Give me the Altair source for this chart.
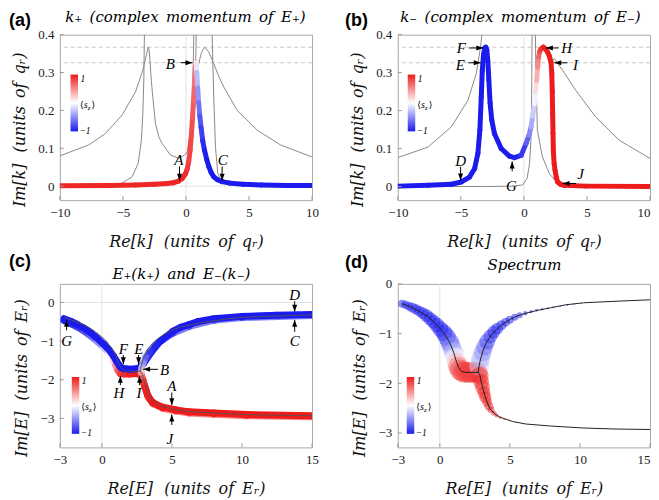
import altair as alt
import pandas as pd

RED = "#ee1b1b"
BLUE = "#1b1bee"
GRAYLINE = "#8a8a8a"
FAINT = "#e2e2e2"
SERIF = "Liberation Serif"
TFONT = "DejaVu Serif"
SP = "\u2002"
SP2 = "\u2002\u2009"

# ---------------- panel (a): k+ ----------------
a_re = [-10, -6, -4, -2.5, -1.5, -1.0, -0.6, -0.3, -0.05, 0.1, 0.22, 0.33, 0.43, 0.52, 0.6, 0.67, 0.72, 0.77,
        0.82, 0.86, 0.93, 1.01, 1.1, 1.2, 1.33, 1.47, 1.65, 1.81, 2.0, 2.2, 2.5, 2.87, 3.5, 4.5, 6, 8, 10]
a_im = [0.001, 0.002, 0.003, 0.005, 0.007, 0.009, 0.013, 0.02, 0.032, 0.045, 0.065, 0.095, 0.135, 0.18, 0.225, 0.27, 0.3, 0.326,
        0.326, 0.3, 0.26, 0.22, 0.185, 0.155, 0.12, 0.095, 0.07, 0.052, 0.036, 0.025, 0.017, 0.012, 0.008, 0.005, 0.003, 0.002, 0.002]
a_sz = [0.95, 0.95, 0.95, 0.95, 0.95, 0.95, 0.95, 0.95, 0.95, 0.9, 0.85, 0.82, 0.8, 0.75, 0.7, 0.65, 0.6, 0.55,
        0.0, -0.2, -0.4, -0.55, -0.7, -0.8, -0.9, -0.95, -1, -1, -1, -1, -1, -1, -1, -1, -1, -1, -1]

ga1_re = [-10, -7.7, -6.38, -5.06, -4.0, -3.42, -3.15, -3.0, -2.92, -2.85, -2.75, -2.63, -2.42, -2.15, -1.89, -1.23, -0.57, -0.1, 0.1, 0.36, 0.5, 0.58, 0.63]
ga1_im = [0.08, 0.109, 0.139, 0.188, 0.249, 0.306, 0.345, 0.367, 0.36, 0.33, 0.28, 0.236, 0.166, 0.13, 0.113, 0.082, 0.074, 0.082, 0.091, 0.148, 0.23, 0.32, 0.41]
ga2_re = [-10, -7, -6, -5.06, -4.26, -3.79, -3.53, -3.42, -3.34, -3.29]
ga2_im = [0.0, 0.001, 0.003, 0.008, 0.025, 0.06, 0.122, 0.192, 0.28, 0.41]
ga3_re = [0.77, 0.8, 0.82]
ga3_im = [0.326, 0.37, 0.41]
ga4_re = [0.86, 0.95, 1.02, 1.2, 1.47, 1.8, 2.2, 2.6, 3.0, 4.06, 5.64, 7.49, 10]
ga4_im = [0.3, 0.315, 0.324, 0.35, 0.367, 0.355, 0.324, 0.29, 0.262, 0.2, 0.148, 0.109, 0.077]
ga5_re = [2.07, 2.2, 2.34, 2.52, 2.87, 3.5, 5, 10]
ga5_im = [0.41, 0.236, 0.104, 0.034, 0.008, 0.003, 0.001, 0.0]

a_lab = ["A", "B", "C"]
a_lab_x = [-0.57, -1.23, 2.92]
a_lab_y = [0.055, 0.31, 0.055]
a_arr = [(-0.51, 0.052, -0.51, 0.014, "d"), (-0.43, 0.326, 0.52, 0.326, "r"), (2.87, 0.052, 2.87, 0.014, "d")]

# ---------------- panel (b): k- ----------------
b_re = [-10, -7.6, -5.76, -4.96, -4.31, -3.91, -3.65, -3.49, -3.38, -3.3, -3.2, -3.1, -3.02, -2.94, -2.86, -2.78, -2.68,
        -2.55, -2.33, -1.8, -1.15, -0.75, -0.22, 0.17, 0.4, 0.57, 0.7, 0.83, 0.92, 1.01, 1.09, 1.17, 1.26, 1.36, 1.54,
        1.72, 1.88, 2.02, 2.15, 2.21, 2.25, 2.28, 2.31, 2.34, 2.4, 2.47, 2.57, 2.67, 2.9, 3.2, 4.9, 10]
b_im = [0.001, 0.003, 0.006, 0.012, 0.025, 0.047, 0.087, 0.148, 0.236, 0.306, 0.348, 0.365, 0.367, 0.36, 0.33, 0.28, 0.22,
        0.175, 0.139, 0.1, 0.08, 0.076, 0.082, 0.113, 0.135, 0.157, 0.185, 0.218, 0.25, 0.28, 0.315, 0.341, 0.356, 0.363, 0.367,
        0.362, 0.354, 0.343, 0.328, 0.3, 0.25, 0.192, 0.14, 0.09, 0.06, 0.043, 0.025, 0.012, 0.006, 0.003, 0.001, 0.0]
b_sz = [-1, -1, -1, -1, -1, -1, -1, -1, -1, -1, -1, -1, -1, -1, -1, -1, -1,
        -1, -1, -1, -1, -1, -0.95, -0.8, -0.6, -0.45, -0.3, -0.15, 0.05, 0.25, 0.45, 0.6, 0.75, 0.85, 0.95,
        1, 1, 1, 1, 1, 1, 1, 1, 1, 1, 1, 1, 1, 1, 1, 1, 1]

gb1_re = [-10, -7.6, -5.76, -4.44, -3.78, -3.44, -3.3]
gb1_im = [0.076, 0.104, 0.157, 0.227, 0.297, 0.367, 0.41]
gb2_re = [-10, -3, -1, -0.1, 0.25, 0.45, 0.55, 0.6, 0.63, 0.65]
gb2_im = [0.0, 0.0, 0.001, 0.004, 0.021, 0.06, 0.12, 0.2, 0.3, 0.41]
gb3_re = [0.91, 0.95, 1.07, 1.47, 2.02, 2.67, 3.5, 10]
gb3_im = [0.41, 0.3, 0.148, 0.078, 0.034, 0.008, 0.002, 0.0]
gb4_re = [10, 7.55, 5.7, 4.12, 3.07, 2.41, 2.2]
gb4_im = [0.074, 0.122, 0.183, 0.253, 0.306, 0.337, 0.33]

b_lab = ["F", "E", "H", "I", "D", "G", "J"]
b_lab_x = [-4.96, -5.05, 3.38, 4.1, -5.02, -1.0, 4.5]
b_lab_y = [0.352, 0.307, 0.352, 0.307, 0.055, -0.011, 0.021]
b_arr = [(-4.36, 0.365, -3.22, 0.365, "r"), (-4.4, 0.326, -3.42, 0.326, "r"), (2.75, 0.365, 1.75, 0.365, "l"),
         (3.46, 0.326, 2.41, 0.326, "l"), (-5.02, 0.052, -5.02, 0.016, "d"), (-0.93, 0.04, -0.93, 0.066, "u"),
         (4.13, 0.008, 3.07, 0.008, "l")]

# ---------------- panel (c): E+(k+) and E-(k-) ----------------
cm_re = [15, 12.5, 10, 8, 6.82, 6.23, 5.65, 5.06, 4.12, 3.41, 2.94, 2.59, 2.0, 1.53, 1.35, 1.18, 1.02, 0.82, 0.5, 0.12,
         -0.35, -0.82, -1.3, -1.76, -2.2, -2.7]
cm_im = [-0.31, -0.33, -0.36, -0.42, -0.5, -0.57, -0.64, -0.75, -1.02, -1.34, -1.6, -1.71, -1.73, -1.71, -1.68, -1.6,
         -1.5, -1.38, -1.22, -1.08, -0.92, -0.78, -0.66, -0.57, -0.49, -0.42]
cm_sz = [-1, -1, -1, -1, -1, -1, -1, -1, -1, -1, -1, -1, -1, -1, -1, -1, -1, -1, -1, -1, -1, -1, -1, -1, -1, -1]

cb_re = [-2.7, -2.2, -1.76, -1.3, -0.82, -0.35, 0.12, 0.5, 0.8, 0.98, 1.15, 1.32, 1.6, 2.0, 2.4, 2.7, 2.82, 2.94, 3.06,
         3.18, 3.29, 3.45, 3.65, 4.0, 4.35, 5.29, 6.23, 8, 10.35, 15]
cb_im = [-0.47, -0.55, -0.63, -0.73, -0.86, -1.0, -1.16, -1.31, -1.47, -1.62, -1.76, -1.84, -1.85, -1.85, -1.84, -1.86,
         -1.9, -2.02, -2.16, -2.3, -2.41, -2.51, -2.59, -2.66, -2.71, -2.78, -2.83, -2.86, -2.9, -2.93]
cb_sz = [-1, -0.95, -0.9, -0.8, -0.7, -0.55, -0.35, -0.15, 0.1, 0.35, 0.6, 0.8, 0.9, 0.95, 1, 1, 1, 1, 1,
         1, 1, 1, 1, 1, 1, 1, 1, 1, 1, 1]

cp_re = [15, 10.35, 8, 6.23, 5.29, 4.35, 3.65, 3.29, 3.06, 2.94, 2.84, 2.8, 2.86, 2.96, 3.12, 3.41, 3.8, 4.3, 5.06, 6.23, 8, 10, 15]
cp_im = [-2.96, -2.93, -2.89, -2.86, -2.81, -2.74, -2.62, -2.44, -2.19, -2.04, -1.9, -1.8, -1.68, -1.55, -1.42, -1.27,
         -1.12, -0.98, -0.8, -0.62, -0.46, -0.39, -0.34]
cp_sz = [1, 1, 1, 1, 1, 1, 1, 1, 0.95, 0.9, 0.75, 0.4, 0.0, -0.35, -0.6, -0.85, -0.95, -1, -1, -1, -1, -1, -1]

c_lab = ["G", "F", "E", "H", "I", "B", "A", "J", "D", "C"]
c_lab_x = [-2.52, 1.53, 2.64, 1.22, 2.64, 4.47, 4.99, 4.85, 13.76, 13.76]
c_lab_y = [-1.13, -1.33, -1.33, -2.46, -2.46, -1.88, -2.29, -3.67, 0.07, -1.13]
c_arr = [(-2.52, -0.72, -2.52, -0.45, "u"), (1.53, -1.36, 1.53, -1.6, "d"), (2.62, -1.36, 2.62, -1.6, "d"),
         (1.32, -2.14, 1.32, -1.9, "u"), (2.69, -2.14, 2.69, -1.9, "u"), (4.0, -1.73, 2.94, -1.73, "l"),
         (4.99, -2.33, 4.99, -2.66, "d"), (4.99, -3.17, 4.99, -2.9, "u"), (13.76, 0.03, 13.76, -0.24, "d"),
         (13.76, -0.76, 13.76, -0.45, "u")]

# ---------------- spectrum (thin line, used in (c) and (d)) ----------------
l1_re = [-2.7, -2.54, -1.8, -0.89, -0.3, 0.28, 0.7, 0.99, 1.2, 1.34, 1.55, 1.81, 2.3, 2.75, 2.85, 2.91, 3.05, 3.22, 3.4,
         3.57, 3.9, 4.27, 5.21, 6.15, 7.91, 10.26, 12.5, 15]
l1_im = [-0.4, -0.41, -0.5, -0.65, -0.8, -0.98, -1.18, -1.38, -1.58, -1.68, -1.76, -1.78, -1.78, -1.78, -1.82, -1.91,
         -2.08, -2.25, -2.4, -2.51, -2.61, -2.68, -2.77, -2.82, -2.86, -2.9, -2.92, -2.93]
l2_re = [2.75, 2.8, 2.91, 3.1, 3.33, 3.65, 4.04, 4.5, 4.98, 5.56, 6.15, 7.0, 7.91, 9.0, 10.26, 12.5, 15]
l2_im = [-1.78, -1.65, -1.51, -1.33, -1.18, -1.04, -0.92, -0.81, -0.72, -0.64, -0.59, -0.53, -0.48, -0.42, -0.38, -0.35, -0.32]

# ---------------- panel (d): weighted spectrum points ----------------
d_re = [-2.7, -2.45, -2.2, -1.95, -1.7, -1.45, -1.2, -0.95, -0.7, -0.45, -0.2, 0.05, 0.3, 0.5, 0.7, 0.85, 0.99, 1.1, 1.2, 1.3,
        1.45, 1.65, 1.85, 2.05, 2.25, 2.45, 2.65,
        2.8, 2.91, 3.05, 3.2, 3.38, 3.6, 3.85, 4.1, 4.4, 4.7, 5.0, 5.35, 5.7, 6.1, 6.5, 6.9, 7.3, 7.7, 8.1, 8.6, 9.1, 9.6, 10.1,
        2.85, 2.95, 3.05, 3.15, 3.25, 3.37, 3.5, 3.65, 3.85, 4.05, 4.3, 4.6, 5.0]
d_im = [-0.40, -0.42, -0.45, -0.48, -0.51, -0.55, -0.59, -0.64, -0.7, -0.76, -0.83, -0.91, -0.99, -1.07, -1.17, -1.27, -1.38,
        -1.48, -1.58, -1.66,
        -1.73, -1.77, -1.78, -1.78, -1.78, -1.78, -1.78,
        -1.65, -1.51, -1.38, -1.27, -1.16, -1.06, -0.97, -0.9, -0.83, -0.77, -0.72, -0.67, -0.63, -0.59, -0.56, -0.53, -0.51,
        -0.49, -0.47, -0.45, -0.43, -0.41, -0.39,
        -1.85, -1.97, -2.08, -2.19, -2.28, -2.37, -2.46, -2.53, -2.6, -2.65, -2.69, -2.72, -2.75]
d_sz = [-1, -1, -1, -1, -1, -1, -1, -1, -1, -1, -1, -1, -1, -0.9, -0.75, -0.55, -0.3, 0.0, 0.3, 0.6,
        0.8, 0.85, 0.85, 0.85, 0.85, 0.85, 0.85,
        -0.2, -0.35, -0.5, -0.65, -0.8, -0.9, -1, -1, -1, -1, -1, -1, -1, -1, -1, -1, -1, -1, -1, -1, -1, -1, -1,
        0.9, 0.9, 0.95, 1, 1, 1, 1, 1, 1, 1, 1, 1, 1]
d_wt = [0.38, 0.4, 0.43, 0.48, 0.5, 0.52, 0.57, 0.62, 0.64, 0.67, 0.71, 0.76, 0.81, 0.86, 0.9, 0.9, 0.95, 0.95, 0.95, 0.95,
        1.0, 1.0, 1.0, 1.0, 1.0, 1.0, 1.0,
        0.95, 0.9, 0.86, 0.81, 0.76, 0.67, 0.62, 0.57, 0.48, 0.43, 0.38, 0.33, 0.29, 0.21, 0.17, 0.14, 0.12, 0.1, 0.09, 0.08,
        0.08, 0.07, 0.06,
        0.86, 0.76, 0.71, 0.62, 0.57, 0.48, 0.43, 0.33, 0.26, 0.19, 0.14, 0.1, 0.07]

COLOR = alt.Color("s:Q", scale=alt.Scale(domain=[-1, 0, 1], range=[BLUE, "#ffffff", RED], interpolate="rgb"), legend=None)
ARROW_SHAPES = alt.Scale(domain=["d", "u", "r", "l"],
                         range=["M-2.5,-7L2.5,-7L0,0Z", "M-2.5,7L2.5,7L0,0Z", "M-7,-2.5L-7,2.5L0,0Z", "M7,-2.5L7,2.5L0,0Z"])


class Panel:
    def __init__(self, w, h, xdom, ydom, xticks, yticks, yfmt, xtitle, ytitle, ytitle_x, last_right=False):
        self.w, self.h = w, h
        self.xticks, self.yticks = xticks, yticks
        self.xs = alt.Scale(domain=xdom, nice=False, zero=False)
        self.ys = alt.Scale(domain=ydom, nice=False, zero=False)
        align = "center"
        if last_right:
            align = {"condition": {"test": "datum.value == %g" % xdom[1], "value": "right"}, "value": "center"}
        self.xaxis = alt.Axis(values=xticks, format="d", title=xtitle, labelFlush=False, labelPadding=16,
                              labelBaseline="alphabetic", labelAlign=align, titleY=46, titleBaseline="alphabetic",
                              labelOverlap=False)
        self.yaxis = alt.Axis(values=yticks, format=yfmt, title=ytitle, labelPadding=6, titleX=ytitle_x,
                              titleY=h / 2 + 12, titleBaseline="alphabetic", labelOverlap=False)

    def X(self, f):
        return alt.X(f, type="quantitative", scale=self.xs, axis=self.xaxis)

    def Y(self, f):
        return alt.Y(f, type="quantitative", scale=self.ys, axis=self.yaxis)

    def band(self, re, im, sz, width, opacity=1.0):
        df = pd.DataFrame({"x": re[:-1], "y": im[:-1], "x2": re[1:], "y2": im[1:],
                           "s": [(u + v) / 2 for u, v in zip(sz[:-1], sz[1:])]})
        return alt.Chart(df).mark_rule(strokeWidth=width, strokeCap="round", clip=True, opacity=opacity).encode(
            x=self.X("x"), y=self.Y("y"), x2=alt.X2("x2"), y2=alt.Y2("y2"), color=COLOR)

    def lines(self, curves, color, width=1.0, opacity=1.0):
        rows = []
        for k, (re, im) in enumerate(curves):
            for i, (x, y) in enumerate(zip(re, im)):
                rows.append({"c": k, "i": i, "x": x, "y": y})
        return alt.Chart(pd.DataFrame(rows)).mark_line(color=color, strokeWidth=width, clip=True, opacity=opacity).encode(
            x=self.X("x"), y=self.Y("y"), detail="c:N", order=alt.Order("i:Q"))

    def hrule(self, vals, color, dash=None):
        kw = dict(color=color, strokeWidth=1)
        if dash:
            kw["strokeDash"] = dash
        return alt.Chart(pd.DataFrame({"v": vals})).mark_rule(**kw).encode(y=self.Y("v"))

    def vrule(self, vals, color):
        return alt.Chart(pd.DataFrame({"v": vals})).mark_rule(color=color, strokeWidth=1).encode(x=self.X("v"))

    def annotations(self, labels, lx, ly, arrows):
        ldf = pd.DataFrame({"t": labels, "x": lx, "y": ly})
        adf = pd.DataFrame(arrows, columns=["x0", "y0", "x1", "y1", "d"])
        txt = alt.Chart(ldf).mark_text(font=SERIF, fontStyle="italic", fontSize=15, align="center",
                                       baseline="alphabetic", color="black").encode(
            x=self.X("x"), y=self.Y("y"), text="t:N")
        shaft = alt.Chart(adf).mark_rule(color="black", strokeWidth=1).encode(
            x=self.X("x0"), y=self.Y("y0"), x2=alt.X2("x1"), y2=alt.Y2("y1"))
        head = alt.Chart(adf).mark_point(filled=True, size=4, opacity=1, color="black", strokeWidth=0).encode(
            x=self.X("x1"), y=self.Y("y1"), shape=alt.Shape("d:N", scale=ARROW_SHAPES, legend=None))
        return [shaft, head, txt]

    def text(self, t, x, y, size, style="italic", font=SERIF, align="left", weight="normal"):
        return alt.Chart(pd.DataFrame({"t": [t]})).mark_text(
            font=font, fontStyle=style, fontSize=size, fontWeight=weight, align=align,
            baseline="alphabetic", color="black").encode(x=alt.value(x), y=alt.value(y), text="t:N")

    def colorbar(self, x0, y0):
        bar = alt.Chart(pd.DataFrame({"t": [0]})).mark_rect(
            fill=alt.Gradient(gradient="linear",
                              stops=[alt.GradientStop(color=RED, offset=0),
                                     alt.GradientStop(color="#ffffff", offset=0.5),
                                     alt.GradientStop(color=BLUE, offset=1)],
                              x1=0, x2=0, y1=0, y2=1)).encode(
            x=alt.value(x0), x2=alt.value(x0 + 7.5), y=alt.value(y0), y2=alt.value(y0 + 57))
        return [bar,
                self.text("1", x0 + 10, y0 + 7, 9.5),
                self.text("\u22121", x0 + 9, y0 + 59.5, 9.5),
                self.text("\u27e8", x0 + 9.5, y0 + 33.5, 9.5, style="normal", font=TFONT),
                self.text("s", x0 + 13.2, y0 + 33.5, 10),
                self.text("z", x0 + 17.3, y0 + 35.5, 7),
                self.text("\u27e9", x0 + 21, y0 + 33.5, 9.5, style="normal", font=TFONT)]

    def ticks(self):
        xt = alt.Chart(pd.DataFrame({"v": self.xticks})).mark_rule(color="#9a9a9a", strokeWidth=1).encode(
            x=self.X("v"), y=alt.value(self.h), y2=alt.value(self.h - 4))
        yt = alt.Chart(pd.DataFrame({"v": self.yticks})).mark_rule(color="#9a9a9a", strokeWidth=1).encode(
            y=self.Y("v"), x=alt.value(0), x2=alt.value(4))
        return [xt, yt]


ya = "Im[k]" + SP2 + "(units" + SP + "of" + SP + "q\u1d63)"
xa = "Re[k]" + SP2 + "(units" + SP + "of" + SP + "q\u1d63)"
ye = "Im[E]" + SP2 + "(units" + SP + "of" + SP + "E\u1d63)"
xe = "Re[E]" + SP2 + "(units" + SP + "of" + SP + "E\u1d63)"

# ---- (a) ----
pa = Panel(253, 166, [-10, 10], [-0.037, 0.4], [-10, -5, 0, 5, 10], [0, 0.1, 0.2, 0.3, 0.4], ".1~f", xa, ya, -35)
layers_a = ([pa.vrule([0], FAINT), pa.hrule([0], FAINT), pa.hrule([0.367, 0.326], "#c8c8c8", [4, 3]),
             pa.lines([(ga1_re, ga1_im), (ga2_re, ga2_im), (ga3_re, ga3_im), (ga4_re, ga4_im), (ga5_re, ga5_im)], GRAYLINE),
             pa.band(a_re, a_im, a_sz, 5)]
            + pa.ticks()
            + pa.annotations(a_lab, a_lab_x, a_lab_y, a_arr)
            + pa.colorbar(10.7, 40)
            + [pa.text("k\u208a" + SP + "(complex" + SP + "momentum" + SP + "of" + SP + "E\u208a)", 126, -13, 15, font=TFONT, align="center"),
               pa.text("(a)", -51, -9, 18, style="normal", font="Liberation Sans", weight="bold")])
chart_a = alt.layer(*layers_a).properties(width=pa.w, height=pa.h)

# ---- (b) ----
pb = Panel(253, 166, [-10, 10], [-0.036, 0.4], [-10, -5, 0, 5, 10], [0, 0.1, 0.2, 0.3, 0.4], ".1~f", xa, ya, -35, True)
layers_b = ([pb.vrule([0], FAINT), pb.hrule([0.367, 0.326], "#c8c8c8", [4, 3]),
             pb.lines([(gb1_re, gb1_im), (gb2_re, gb2_im), (gb3_re, gb3_im), (gb4_re, gb4_im)], GRAYLINE),
             pb.band(b_re, b_im, b_sz, 5)]
            + pb.ticks()
            + pb.annotations(b_lab, b_lab_x, b_lab_y, b_arr)
            + pb.colorbar(10, 40)
            + [pb.text("k\u208b" + SP + "(complex" + SP + "momentum" + SP + "of" + SP + "E\u208b)", 123, -13, 15, font=TFONT, align="center"),
               pb.text("(b)", -53, -9, 18, style="normal", font="Liberation Sans", weight="bold")])
chart_b = alt.layer(*layers_b).properties(width=pb.w, height=pb.h)

# ---- (c) ----
pc = Panel(253, 164, [-3, 15], [-3.75, 0.48], [-3, 0, 5, 10, 15], [0, -1, -2, -3], "d", xe, ye, -33)
layers_c = ([pc.vrule([0], FAINT), pc.hrule([0], FAINT),
             pc.band(cb_re, cb_im, cb_sz, 7),
             pc.band(cm_re, cm_im, cm_sz, 7),
             pc.band(cp_re, cp_im, cp_sz, 7, 0.55),
             pc.lines([(l1_re, l1_im), (l2_re, l2_im)], "#555555", 1, 0.9)]
            + pc.ticks()
            + pc.annotations(c_lab, c_lab_x, c_lab_y, c_arr)
            + pc.colorbar(12, 93.4)
            + [pc.text("E\u208a(k\u208a)" + SP + "and" + SP + "E\u208b(k\u208b)", 122, -5, 15, font=TFONT, align="center"),
               pc.text("(c)", -51, -17, 18, style="normal", font="Liberation Sans", weight="bold")])
chart_c = alt.layer(*layers_c).properties(width=pc.w, height=pc.h)

# ---- (d) ----
pdd = Panel(253, 164, [-3, 15], [-3.29, 0], [-3, 0, 5, 10, 15], [0, -1, -2, -3], "d", xe, ye, -33, True)
circles = alt.Chart(pd.DataFrame({"x": d_re, "y": d_im, "s": d_sz, "w": d_wt})).mark_circle(opacity=0.5, clip=True).encode(
    x=pdd.X("x"), y=pdd.Y("y"), color=COLOR,
    size=alt.Size("w:Q", scale=alt.Scale(type="pow", exponent=2, domain=[0, 1], range=[0, 441]), legend=None))
layers_d = ([pdd.vrule([0], FAINT), circles,
             pdd.lines([(l1_re, l1_im), (l2_re, l2_im)], "#222222", 1)]
            + pdd.ticks()
            + pdd.colorbar(9, 93.4)
            + [pdd.text("Spectrum", 127, -14, 15, font=TFONT, align="center"),
               pdd.text("(d)", -53, -16, 18, style="normal", font="Liberation Sans", weight="bold")])
chart_d = alt.layer(*layers_d).properties(width=pdd.w, height=pdd.h)

chart = alt.concat(chart_a, chart_b, chart_c, chart_d, columns=2,
                   spacing={"row": 84, "column": 86}, bounds="flush").properties(
    padding=0, background="white"
).configure_view(stroke="#a8a8a8", strokeWidth=1).configure_axis(
    domain=False, ticks=False, tickSize=0, grid=False,
    labelFont=SERIF, labelFontSize=13, labelColor="#1a1a1a",
    titleFont=TFONT, titleFontSize=16, titleFontStyle="italic", titleFontWeight="normal", titleColor="#111111"
)

chart.save("out.html", embed_options={"renderer": "svg", "actions": False})
